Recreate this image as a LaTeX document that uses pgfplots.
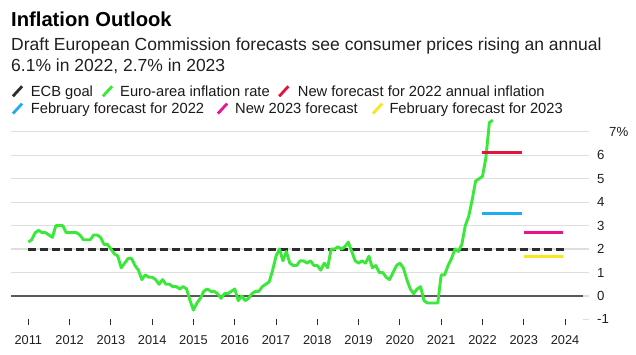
\documentclass[border=0pt]{standalone}
\usepackage{fontspec}
\setmainfont{Liberation Sans}
\usepackage{pgfplots}
\pgfplotsset{compat=1.18}
\definecolor{cgreen}{RGB}{58,232,58}
\definecolor{cred}{RGB}{226,20,60}
\definecolor{cblue}{RGB}{30,174,240}
\definecolor{cpink}{RGB}{232,20,140}
\definecolor{cyellow}{RGB}{245,232,30}
\definecolor{cdark}{RGB}{45,45,45}
\definecolor{cgrid}{RGB}{222,222,222}
\newcommand\legicon[3]{\draw[#1, line width=2.8pt] (#2+1.2,#3+0.4) -- (#2+10.4,#3+10.4);}
\newcommand\legtext[3]{\node[anchor=base west, inner sep=0pt, font=\fontsize{14.7}{17}\selectfont, text=black!90] at (#1,#2) {#3};}
\pgfplotstableread{
x y
2011.000 2.3
2011.083 2.4
2011.167 2.7
2011.250 2.8
2011.333 2.7
2011.417 2.7
2011.500 2.6
2011.583 2.5
2011.667 3.0
2011.750 3.0
2011.833 3.0
2011.917 2.7
2012.000 2.7
2012.083 2.7
2012.167 2.7
2012.250 2.6
2012.333 2.4
2012.417 2.4
2012.500 2.4
2012.583 2.6
2012.667 2.6
2012.750 2.5
2012.833 2.2
2012.917 2.2
2013.000 2.0
2013.083 1.8
2013.167 1.7
2013.250 1.2
2013.333 1.4
2013.417 1.6
2013.500 1.6
2013.583 1.3
2013.667 1.1
2013.750 0.7
2013.833 0.9
2013.917 0.8
2014.000 0.8
2014.083 0.7
2014.167 0.5
2014.250 0.7
2014.333 0.5
2014.417 0.5
2014.500 0.4
2014.583 0.4
2014.667 0.3
2014.750 0.4
2014.833 0.3
2014.917 -0.2
2015.000 -0.6
2015.083 -0.3
2015.167 -0.1
2015.250 0.2
2015.333 0.3
2015.417 0.2
2015.500 0.2
2015.583 0.1
2015.667 -0.1
2015.750 0.1
2015.833 0.1
2015.917 0.2
2016.000 0.3
2016.083 -0.2
2016.167 0.0
2016.250 -0.2
2016.333 -0.1
2016.417 0.1
2016.500 0.2
2016.583 0.2
2016.667 0.4
2016.750 0.5
2016.833 0.6
2016.917 1.1
2017.000 1.7
2017.083 2.0
2017.167 1.5
2017.250 1.9
2017.333 1.4
2017.417 1.3
2017.500 1.3
2017.583 1.5
2017.667 1.5
2017.750 1.4
2017.833 1.5
2017.917 1.3
2018.000 1.3
2018.083 1.1
2018.167 1.4
2018.250 1.2
2018.333 2.0
2018.417 2.0
2018.500 2.1
2018.583 2.0
2018.667 2.1
2018.750 2.3
2018.833 1.9
2018.917 1.5
2019.000 1.4
2019.083 1.5
2019.167 1.4
2019.250 1.7
2019.333 1.2
2019.417 1.3
2019.500 1.0
2019.583 1.0
2019.667 0.8
2019.750 0.7
2019.833 1.0
2019.917 1.3
2020.000 1.4
2020.083 1.2
2020.167 0.7
2020.250 0.3
2020.333 0.1
2020.417 0.3
2020.500 0.4
2020.583 -0.2
2020.667 -0.3
2020.750 -0.3
2020.833 -0.3
2020.917 -0.3
2021.000 0.9
2021.083 0.9
2021.167 1.3
2021.250 1.6
2021.333 2.0
2021.417 1.9
2021.500 2.2
2021.583 3.0
2021.667 3.4
2021.750 4.1
2021.833 4.9
2021.917 5.0
2022.000 5.1
2022.083 5.9
2022.167 7.4
2022.250 7.5
}\euroarea
\begin{document}
\begin{tikzpicture}[x=1pt,y=1pt]
\useasboundingbox (0,0) rectangle (636,355);
% titles
\node[anchor=base west, inner sep=0pt, font=\fontsize{20.2}{24}\selectfont\bfseries, text=black] at (11,328.3) {Inflation Outlook};
\node[anchor=base west, inner sep=0pt, font=\fontsize{17.5}{21}\selectfont, text=black!88] at (11,304.3) {Draft European Commission forecasts see consumer prices rising an annual};
\node[anchor=base west, inner sep=0pt, font=\fontsize{17.5}{21}\selectfont, text=black!88] at (11,283.3) {6.1\% in 2022, 2.7\% in 2023};
% legend
\legicon{cdark}{11.7}{258.3}
\legtext{30.7}{258.3}{ECB goal}
\legicon{cgreen}{101.7}{258.3}
\legtext{120}{258.3}{Euro-area inflation rate}
\legicon{cred}{278}{258.3}
\legtext{297.7}{258.3}{New forecast for 2022 annual inflation}
\legicon{cblue}{11.7}{241}
\legtext{30.7}{241}{February forecast for 2022}
\legicon{cpink}{216.7}{241}
\legtext{235}{241}{New 2023 forecast}
\legicon{cyellow}{371.7}{241}
\legtext{389.3}{241}{February forecast for 2023}
\begin{axis}[
  at={(11pt,30pt)}, anchor=south west,
  scale only axis, width=578pt, height=208pt,
  xmin=2010.58, xmax=2024.58, ymin=-1.237, ymax=7.633,
  axis line style={draw=none},
  clip=false,
  tick align=inside,
  xtick={2011,2012,2013,2014,2015,2016,2017,2018,2019,2020,2021,2022,2023,2024},
  xticklabels={2011,2012,2013,2014,2015,2016,2017,2018,2019,2020,2021,2022,2023,2024},
  xtick pos=left,
  major tick length=6pt,
  xtick style={color=cdark, line width=1pt},
  xticklabel style={anchor=base, yshift=-19.3pt, font=\fontsize{12.8}{15}\selectfont, text=black!88},
  ytick={0,1,2,3,4,5,6,7},
  yticklabels={0,1,2,3,4,5,6,\hspace*{12pt}7\%},
  ytick pos=right,
  ytick style={draw=none},
  yticklabel style={anchor=west, inner sep=0pt, xshift=8pt, font=\fontsize{13.2}{15}\selectfont, text=black!88},
  extra y ticks={-1},
  extra y tick labels={-1},
  extra y tick style={grid=none, ytick style={draw=none}},
  ymajorgrids,
  grid style={color=cgrid, line width=1.3pt},
]
\addplot[color=cgrid, line width=1.3pt, forget plot] coordinates {(2024.43,-1) (2024.58,-1)};
\addplot[color=black!65, line width=1.4pt] coordinates {(2010.58,0) (2024.43,0)};
\addplot[color=cdark, line width=3pt, dash pattern=on 8pt off 4pt] coordinates {(2011,2) (2024,2)};
\addplot[color=cgreen, line width=2.9pt, line join=round] table[x=x,y=y] {\euroarea};
\addplot[color=cred, line width=3pt] coordinates {(2022.0,6.1) (2022.95,6.1)};
\addplot[color=cblue, line width=3pt] coordinates {(2022.0,3.5) (2022.95,3.5)};
\addplot[color=cpink, line width=3pt] coordinates {(2023.0,2.7) (2023.95,2.7)};
\addplot[color=cyellow, line width=3pt] coordinates {(2023.0,1.7) (2023.95,1.7)};
\end{axis}
\end{tikzpicture}
\end{document}
